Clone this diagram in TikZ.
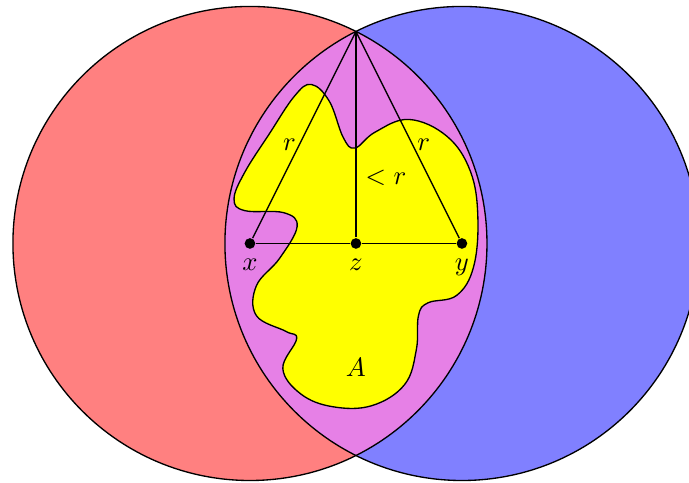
\documentclass[tikz,border=0pt]{standalone}
\usepackage{amsmath}
\usepackage{amssymb}
\definecolor{lens}{RGB}{230,128,230}
\definecolor{setA}{RGB}{255,255,0}
\tikzset{dot/.style={circle, fill=black, inner sep=0pt, minimum size=4pt}}

\begin{document}
\begin{tikzpicture}[scale=1.4, line width=0.5pt]
        \clip (-3.358,-2.259) rectangle (3.142,2.297);
        \fill[red!50] (-1,0) circle ({sqrt(5)});
        \fill[blue!50] (1,0) circle ({sqrt(5)});
        \begin{scope}
            \clip (-1,0) circle ({sqrt(5)});
            \fill[lens] (1,0) circle ({sqrt(5)});
        \end{scope}
        \draw (-1,0) circle ({sqrt(5)});
        \draw (1,0) circle ({sqrt(5)});
        % the set A
        \filldraw[fill=setA] plot[smooth cycle, tension=0.65] coordinates {
            (-0.42,1.50) (-0.25,1.34) (-0.12,1.00) (-0.01,0.90) (0.18,1.05)
            (0.50,1.17) (0.86,1.01) (1.08,0.68) (1.15,0.25) (1.11,-0.22)
            (0.95,-0.49) (0.68,-0.56) (0.59,-0.68) (0.57,-1.00) (0.46,-1.33)
            (0.15,-1.53) (-0.22,-1.54) (-0.52,-1.42) (-0.69,-1.18)
            (-0.56,-0.90) (-0.66,-0.83) (-0.94,-0.68) (-0.94,-0.40) (-0.72,-0.14)
            (-0.555,0.16) (-0.68,0.29) (-1.05,0.31) (-1.15,0.42) (-1.05,0.67)
            (-0.82,1.03) (-0.58,1.39)};
        \node (A) at (0,-1.17) {$A$};
        \coordinate (top) at (0,2);
        \node[dot, label=below:$x$] (x) at (-1,0) {};
        \node[dot, label=below:$z$] (z) at (0,0) {};
        \node[dot, label=below:$y$] (y) at (1,0) {};
        \draw (x) -- (z) -- (y);
        \draw (top) -- (x) node[pos=0.55, left, inner sep=1pt] {$r$};
        \draw (top) -- (y) node[pos=0.55, right, inner sep=1.5pt] {$r$};
        \draw (top) -- (z) node[pos=0.71, right] {$<r$};
    \end{tikzpicture}
\end{document}
